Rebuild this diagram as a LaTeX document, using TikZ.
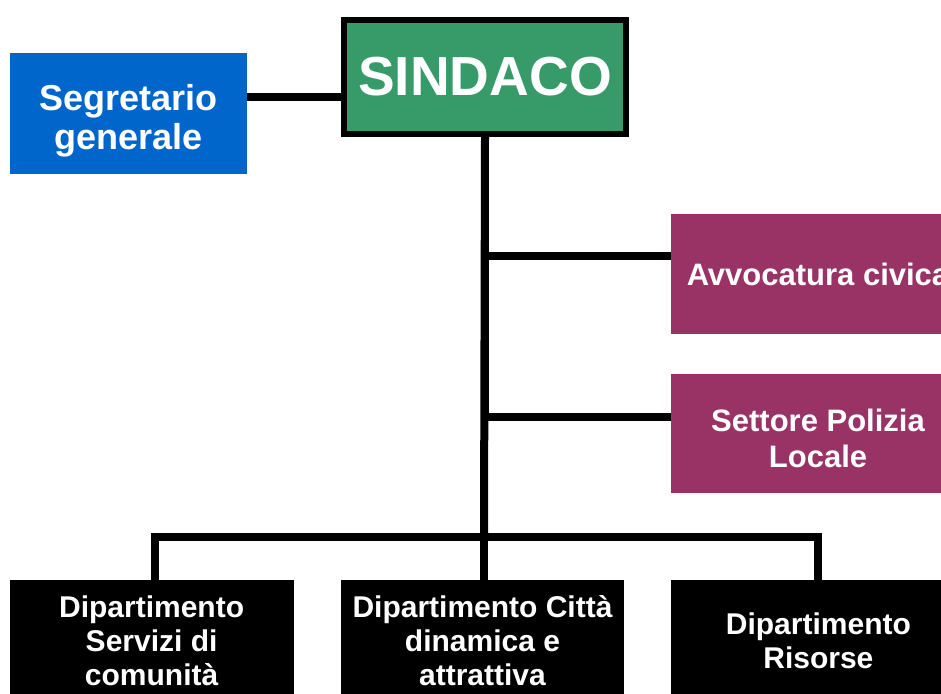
\documentclass[tikz,border=0pt]{standalone}
\usepackage{fontspec}
\setmainfont{Liberation Sans}
\usetikzlibrary{positioning}

\begin{document}
\begin{tikzpicture}[
  x=1pt, y=-1pt, node distance=47pt,
  unit/.style={minimum height=120pt, minimum width=237pt, inner sep=0pt,
               align=center, text=white, font=\bfseries},
  head/.style={unit, draw=black, line width=6pt,
               minimum width=282pt, minimum height=114pt,
               font=\bfseries\fontsize{55}{60}\selectfont},
  staff/.style={unit, font=\bfseries\fontsize{36}{39}\selectfont},
  office/.style={unit, minimum width=294pt,
                 font=\bfseries\fontsize{31}{36}\selectfont},
  dept/.style={unit, fill=black, minimum width=283pt, minimum height=122pt,
               font=\bfseries\fontsize{30}{34}\selectfont},
  conn/.style={draw=black, line width=8pt, line join=miter}
]
\useasboundingbox (0,0) rectangle (941,693);
\clip (0,0) rectangle (941,693);
\definecolor{sgreen}{RGB}{55,154,105}
\definecolor{sblue}{RGB}{0,102,204}
\definecolor{spurple}{RGB}{153,51,102}
\node[head, fill=sgreen] (sindaco) at (485,77) {SINDACO};
\node[staff, fill=sblue, minimum height=121pt] (segr) at (128.5,113.5)
  {\rule{0pt}{40pt}Segretario\\generale};
\node[office, fill=spurple] (avv) at (818,274) {Avvocatura civica};
\node[office, fill=spurple, minimum height=119pt] (pol) at (818,433.5)
  {\rule{0pt}{32pt}Settore Polizia\\Locale};
\node[dept] (dcitta) at (482.5,641) {Dipartimento Città\\dinamica e\\attrattiva};
\node[dept, minimum width=284pt, left=47pt of dcitta] (dserv) {Dipartimento\\Servizi di\\comunità};
\node[dept, minimum width=294pt, right=47pt of dcitta] (dris) {Dipartimento\\Risorse};
\coordinate (hub) at (484,537);
% connectors
\draw[conn] ([yshift=-20pt]sindaco.west) -- ([yshift=-20pt]sindaco.west -| segr.east);
\draw[conn] (sindaco.south) -- (hub);
\draw[conn] (sindaco.south) |- ([yshift=18pt]avv.west);
\draw[conn] (sindaco.south) |- ([yshift=16.5pt]pol.west);
\draw[conn] ([xshift=3pt]dserv.north) |- (hub) -| (dris.north);
\draw[conn] (hub) -- (hub |- dcitta.north);
\end{tikzpicture}
\end{document}
